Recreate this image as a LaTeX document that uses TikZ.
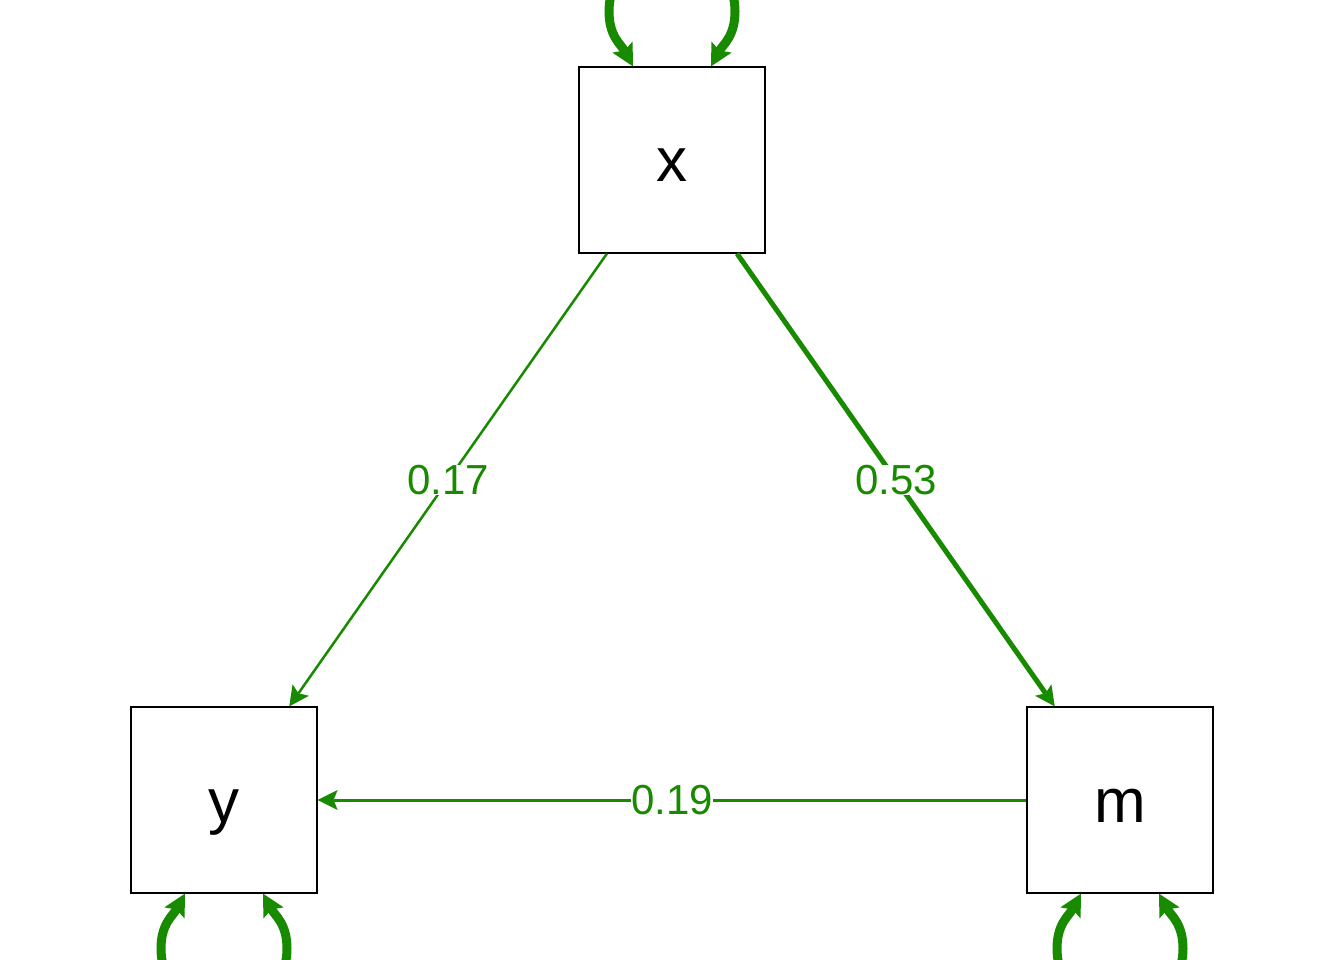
\documentclass[tikz,border=0pt]{standalone}
\usepackage{fontspec}
\setmainfont{Liberation Sans}
\usetikzlibrary{arrows.meta,calc}
\definecolor{pathgreen}{RGB}{24,138,0}

\begin{document}
\begin{tikzpicture}[x=1pt,y=-1pt,
  var/.style={draw,line width=1.2pt,minimum size=186pt,inner sep=0pt,text height=44pt,text depth=0pt,
    font=\fontsize{62}{62}\selectfont},
  regr/.style={draw=pathgreen,-{Stealth[length=20pt,width=20pt,inset=4pt,line width=0pt]}},
  coef/.style={fill=white,inner sep=0pt,text=pathgreen,font=\fontsize{42}{42}\selectfont},
  varloop/.style={draw=pathgreen,line width=9pt,
    {Stealth[length=22pt,width=23pt,inset=4pt,line width=0pt]}-{Stealth[length=22pt,width=23pt,inset=4pt,line width=0pt]}}]
  \useasboundingbox (0,0) rectangle (1344,960);
\node[var] (x) at (672,160) {x};
\node[var] (y) at (224,800) {y};
\node[var] (m) at (1120,800) {m};
% paths
\draw[regr,line width=2.5pt] (x) -- node[coef] {0.17} (y);
\draw[regr,line width=5pt] (x) -- node[coef] {0.53} (m);
\draw[regr,line width=3pt] (m) -- node[coef] {0.19} (y);
% variances
\draw[varloop] ($(x.north)+(-39,0)$) .. controls +(-12,-22) and +(0,25) .. ($(x.north)+(-63,-55)$)
  .. controls +(0,-35) and +(-35,0) .. ($(x.north)+(0,-122)$)
  .. controls +(35,0) and +(0,-35) .. ($(x.north)+(63,-55)$)
  .. controls +(0,25) and +(12,-22) .. ($(x.north)+(39,0)$);
\draw[varloop] ($(y.south)+(-39,0)$) .. controls +(-12,22) and +(0,-25) .. ($(y.south)+(-63,55)$)
  .. controls +(0,35) and +(-35,0) .. ($(y.south)+(0,122)$)
  .. controls +(35,0) and +(0,35) .. ($(y.south)+(63,55)$)
  .. controls +(0,-25) and +(12,22) .. ($(y.south)+(39,0)$);
\draw[varloop] ($(m.south)+(-39,0)$) .. controls +(-12,22) and +(0,-25) .. ($(m.south)+(-63,55)$)
  .. controls +(0,35) and +(-35,0) .. ($(m.south)+(0,122)$)
  .. controls +(35,0) and +(0,35) .. ($(m.south)+(63,55)$)
  .. controls +(0,-25) and +(12,22) .. ($(m.south)+(39,0)$);
\end{tikzpicture}
\end{document}
